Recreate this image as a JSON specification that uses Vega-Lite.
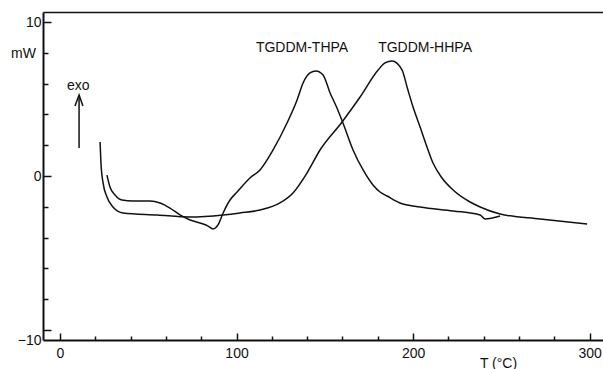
{
  "$schema": "https://vega.github.io/schema/vega-lite/v6.json",
  "width": 560,
  "height": 328,
  "autosize": {"type": "none"},
  "padding": {"left": 43, "top": 12, "right": 0, "bottom": 29},
  "background": "white",
  "config": {
    "view": {"stroke": null},
    "font": "Liberation Sans",
    "text": {"font": "Liberation Sans", "fontSize": 14, "color": "#111"},
    "axis": {"labelFont": "Liberation Sans", "titleFont": "Liberation Sans", "labelFontSize": 14, "titleFontSize": 14, "labelColor": "#111", "titleColor": "#111", "titleFontWeight": "normal", "domainColor": "#111", "domainWidth": 2, "tickColor": "#111", "tickWidth": 1.5, "grid": false, "labelOverlap": "greedy", "labelFlush": false, "labelBound": false}
  },
  "resolve": {"axis": {"x": "independent"}},
  "datasets": {
    "curves": [
      {"series": "HHPA", "T": 22.7, "mW": 2.21},
      {"series": "HHPA", "T": 23.2, "mW": 0.84},
      {"series": "HHPA", "T": 24.4, "mW": -0.45},
      {"series": "HHPA", "T": 26.6, "mW": -1.36},
      {"series": "HHPA", "T": 30.0, "mW": -2.01},
      {"series": "HHPA", "T": 35.7, "mW": -2.40},
      {"series": "HHPA", "T": 55.0, "mW": -2.53},
      {"series": "HHPA", "T": 73.7, "mW": -2.66},
      {"series": "HHPA", "T": 92.4, "mW": -2.53},
      {"series": "HHPA", "T": 102.0, "mW": -2.40},
      {"series": "HHPA", "T": 113.3, "mW": -2.21},
      {"series": "HHPA", "T": 124.6, "mW": -1.75},
      {"series": "HHPA", "T": 132.0, "mW": -1.10},
      {"series": "HHPA", "T": 139.9, "mW": 0.19},
      {"series": "HHPA", "T": 147.3, "mW": 1.69},
      {"series": "HHPA", "T": 159.8, "mW": 3.51},
      {"series": "HHPA", "T": 170.0, "mW": 5.13},
      {"series": "HHPA", "T": 180.2, "mW": 6.88},
      {"series": "HHPA", "T": 184.1, "mW": 7.34},
      {"series": "HHPA", "T": 188.1, "mW": 7.47},
      {"series": "HHPA", "T": 193.8, "mW": 6.88},
      {"series": "HHPA", "T": 196.6, "mW": 5.78},
      {"series": "HHPA", "T": 200.0, "mW": 4.48},
      {"series": "HHPA", "T": 204.0, "mW": 3.18},
      {"series": "HHPA", "T": 207.9, "mW": 1.88},
      {"series": "HHPA", "T": 211.3, "mW": 0.84},
      {"series": "HHPA", "T": 216.4, "mW": -0.13},
      {"series": "HHPA", "T": 222.7, "mW": -0.91},
      {"series": "HHPA", "T": 232.3, "mW": -1.69},
      {"series": "HHPA", "T": 238.0, "mW": -2.01},
      {"series": "HHPA", "T": 249.3, "mW": -2.47},
      {"series": "HHPA", "T": 272.0, "mW": -2.79},
      {"series": "HHPA", "T": 298.6, "mW": -3.12},
      {"series": "THPA", "T": 26.6, "mW": 0.06},
      {"series": "THPA", "T": 28.3, "mW": -0.71},
      {"series": "THPA", "T": 31.2, "mW": -1.23},
      {"series": "THPA", "T": 35.1, "mW": -1.56},
      {"series": "THPA", "T": 41.4, "mW": -1.62},
      {"series": "THPA", "T": 51.0, "mW": -1.62},
      {"series": "THPA", "T": 56.7, "mW": -1.75},
      {"series": "THPA", "T": 62.3, "mW": -2.08},
      {"series": "THPA", "T": 68.0, "mW": -2.53},
      {"series": "THPA", "T": 73.7, "mW": -2.86},
      {"series": "THPA", "T": 79.3, "mW": -3.05},
      {"series": "THPA", "T": 83.9, "mW": -3.25},
      {"series": "THPA", "T": 86.7, "mW": -3.44},
      {"series": "THPA", "T": 89.5, "mW": -3.18},
      {"series": "THPA", "T": 92.4, "mW": -2.40},
      {"series": "THPA", "T": 96.3, "mW": -1.56},
      {"series": "THPA", "T": 100.3, "mW": -1.04},
      {"series": "THPA", "T": 107.6, "mW": -0.13},
      {"series": "THPA", "T": 113.3, "mW": 0.39},
      {"series": "THPA", "T": 120.7, "mW": 1.69},
      {"series": "THPA", "T": 128.6, "mW": 3.44},
      {"series": "THPA", "T": 134.3, "mW": 4.94},
      {"series": "THPA", "T": 137.7, "mW": 6.04},
      {"series": "THPA", "T": 141.6, "mW": 6.69},
      {"series": "THPA", "T": 145.0, "mW": 6.82},
      {"series": "THPA", "T": 149.0, "mW": 6.56},
      {"series": "THPA", "T": 153.0, "mW": 5.39},
      {"series": "THPA", "T": 156.9, "mW": 4.42},
      {"series": "THPA", "T": 160.3, "mW": 3.44},
      {"series": "THPA", "T": 166.0, "mW": 1.69},
      {"series": "THPA", "T": 171.7, "mW": 0.39},
      {"series": "THPA", "T": 177.3, "mW": -0.58},
      {"series": "THPA", "T": 181.3, "mW": -1.04},
      {"series": "THPA", "T": 185.3, "mW": -1.30},
      {"series": "THPA", "T": 192.6, "mW": -1.75},
      {"series": "THPA", "T": 204.0, "mW": -2.01},
      {"series": "THPA", "T": 222.7, "mW": -2.27},
      {"series": "THPA", "T": 238.0, "mW": -2.53},
      {"series": "THPA", "T": 240.8, "mW": -2.79},
      {"series": "THPA", "T": 249.3, "mW": -2.60}
    ],
    "labels": [
      {"T": 137.1, "mW": 8.31, "text": "TGDDM-THPA"},
      {"T": 206.8, "mW": 8.31, "text": "TGDDM-HHPA"},
      {"T": 10.4, "mW": 5.84, "text": "exo"}
    ],
    "shaft": [
      {"T": 10.8, "mW": 5.13, "mW2": 1.82}
    ],
    "head": [
      {"k": 1, "T": 8.5, "mW": 4.55},
      {"k": 2, "T": 10.8, "mW": 5.26},
      {"k": 3, "T": 13.0, "mW": 4.55}
    ]
  },
  "encoding": {
    "y": {"field": "mW", "type": "quantitative",
      "scale": {"domain": [-10.65, 10.65], "nice": false, "zero": false},
      "axis": {
        "values": [-10, -8, -6, -4, -2, 0, 2, 4, 6, 8, 10],
        "tickSize": {"condition": {"test": "datum.value % 10 === 0", "value": -8}, "value": -5},
        "labelExpr": "datum.value % 10 === 0 ? datum.label : ''",
        "labelOffset": {"condition": {"test": "datum.value === -10", "value": 11}, "value": 0},
        "labelPadding": 10,
        "labelOverlap": "greedy",
        "title": "mW",
        "titleAngle": 0,
        "titleX": -20,
        "titleY": 41,
        "titleAlign": "center",
        "titleBaseline": "middle"
      }
    }
  },
  "layer": [
    {
      "data": {"name": "curves"},
      "mark": {"type": "line", "interpolate": "monotone", "color": "#111", "strokeWidth": 1.5},
      "encoding": {
        "x": {"field": "T", "type": "quantitative",
          "scale": {"domain": [-9.63, 307.6], "nice": false, "zero": false},
          "axis": {
            "orient": "bottom",
            "values": [0, 20, 40, 60, 80, 100, 120, 140, 160, 180, 200, 220, 240, 260, 280, 300],
            "tickSize": {"condition": {"test": "datum.value % 100 === 0", "value": -7}, "value": -4},
            "labelExpr": "datum.value % 100 === 0 ? datum.label : ''",
            "labelPadding": 13,
            "labelOverlap": "greedy",
            "title": "T (°C)",
            "titleX": 455,
            "titleY": 23,
            "titleAlign": "center",
            "titleBaseline": "middle"
          }
        },
        "detail": {"field": "series"}
      }
    },
    {
      "data": {"name": "labels"},
      "mark": {"type": "text", "align": "center", "baseline": "middle"},
      "encoding": {
        "x": {"field": "T", "type": "quantitative",
          "axis": {"orient": "top", "domain": true, "domainWidth": 1.5, "ticks": false, "labels": false, "title": null}},
        "text": {"field": "text"}
      }
    },
    {
      "data": {"name": "shaft"},
      "mark": {"type": "rule", "color": "#111", "strokeWidth": 1.5},
      "encoding": {
        "x": {"field": "T", "type": "quantitative", "axis": null},
        "y2": {"field": "mW2"}
      }
    },
    {
      "data": {"name": "head"},
      "mark": {"type": "line", "color": "#111", "strokeWidth": 1.5},
      "encoding": {
        "x": {"field": "T", "type": "quantitative", "axis": null},
        "order": {"field": "k"}
      }
    }
  ]
}
